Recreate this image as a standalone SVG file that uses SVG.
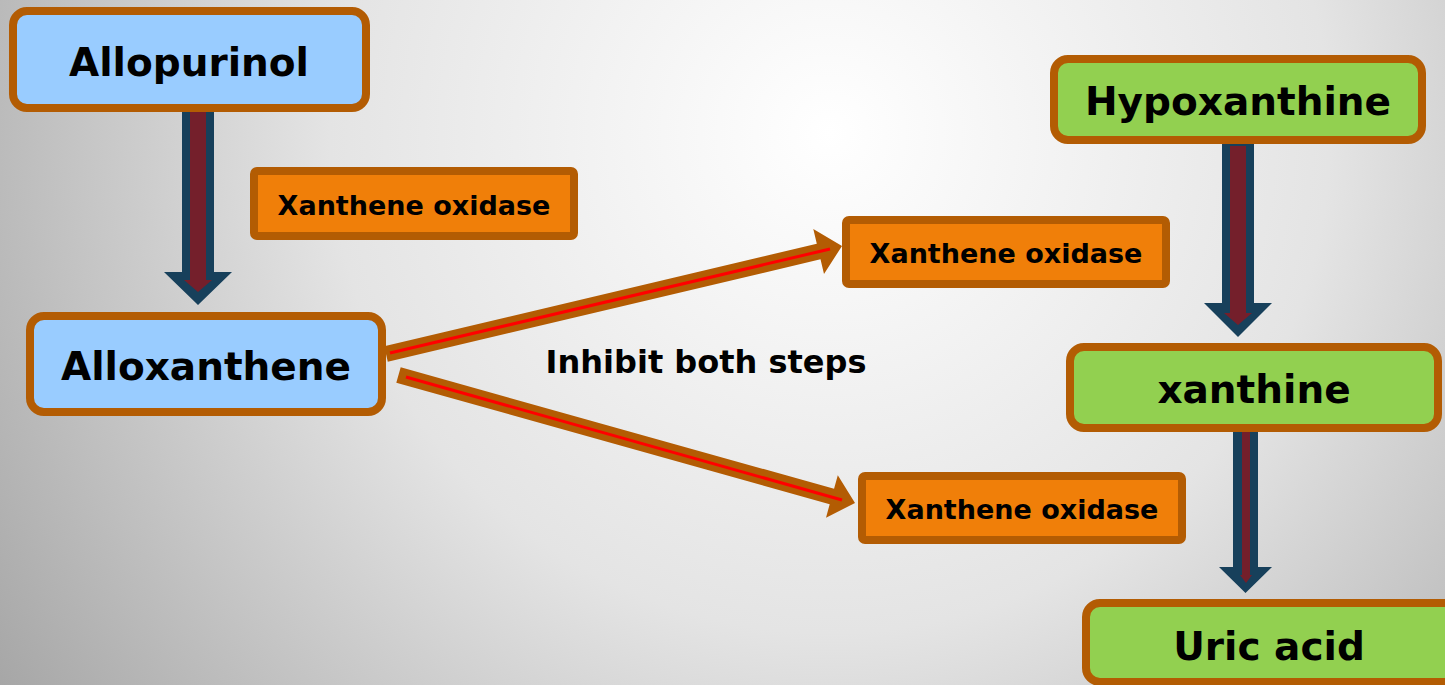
<svg xmlns="http://www.w3.org/2000/svg" width="1445" height="685" viewBox="0 0 1445 685">
<defs>
<radialGradient id="bg" gradientUnits="userSpaceOnUse" cx="830" cy="133" r="1000">
<stop offset="0" stop-color="#ffffff"/>
<stop offset="0.5" stop-color="#e4e4e4"/>
<stop offset="1" stop-color="#a6a6a6"/>
</radialGradient>
<style>
.big{fill:#99ccff;stroke:#b35c03;stroke-width:8}
.grn{fill:#92d050;stroke:#b35c03;stroke-width:8}
.enz{fill:#f07f09;stroke:#b35c03;stroke-width:8}
.t1{font-family:"DejaVu Sans","Verdana",sans-serif;font-weight:bold;font-size:39px;fill:#000;text-anchor:middle}
.t2{font-family:"DejaVu Sans","Verdana",sans-serif;font-weight:bold;font-size:27px;fill:#000;text-anchor:middle}
.t3{font-family:"DejaVu Sans","Verdana",sans-serif;font-weight:bold;font-size:32px;fill:#000;text-anchor:middle}
.bo{fill:#17405b}
.bi{fill:#741f2b}
.ia{fill:#b35c03}
.rl{stroke:#ff0000;stroke-width:3;fill:none}
</style>
</defs>
<rect x="0" y="0" width="1445" height="685" fill="url(#bg)"/>
<g id="connectors">
<path class="bo" d="M182,100 L214,100 L214,272 L232,272 L198,305 L164,272 L182,272 Z"/>
<path class="bi" d="M190,112 L206,112 L206,280 L212,280 L198,292 L184,280 L190,280 Z"/>
<path class="bo" d="M1222,135 L1254,135 L1254,303 L1272,303 L1238,337 L1204,303 L1222,303 Z"/>
<path class="bi" d="M1230,146 L1246,146 L1246,313 L1252,313 L1238,325 L1224,313 L1230,313 Z"/>
<path class="bo" d="M1233,425 L1258,425 L1258,567 L1272,567 L1245.5,593 L1219,567 L1233,567 Z"/>
<path class="bi" d="M1242,432 L1250,432 L1250,575 L1252,575 L1246,583 L1240,575 L1242,575 Z"/>
<polygon class="ia" points="384.2,346.2 816.8,243.75 813.3,229.1 842,246 824.0,273.9 820.5,259.3 387.8,361.8"/>
<line class="rl" x1="390" y1="353" x2="830" y2="249"/>
<polygon class="ia" points="400.7,367.3 834.05,488.8 837.8,475.3 855,503 826.0,517.7 829.7,504.2 396.3,382.7"/>
<line class="rl" x1="406" y1="377" x2="842" y2="500"/>
</g>
<g id="allopurinol">
<rect class="big" x="13" y="11" width="353" height="97" rx="14"/>
<text class="t1" x="189" y="76">Allopurinol</text>
</g>
<g id="xo1">
<rect class="enz" x="254" y="171" width="320" height="65" rx="3"/>
<text class="t2" x="414" y="215">Xanthene oxidase</text>
</g>
<g id="alloxanthene">
<rect class="big" x="30" y="316" width="352" height="96" rx="14"/>
<text class="t1" x="206" y="380">Alloxanthene</text>
</g>
<g id="inhibit">
<text class="t3" x="706" y="373">Inhibit both steps</text>
</g>
<g id="xo2">
<rect class="enz" x="846" y="220" width="320" height="64" rx="3"/>
<text class="t2" x="1006" y="263">Xanthene oxidase</text>
</g>
<g id="xo3">
<rect class="enz" x="862" y="476" width="320" height="64" rx="3"/>
<text class="t2" x="1022" y="519">Xanthene oxidase</text>
</g>
<g id="hypoxanthine">
<rect class="grn" x="1054" y="59" width="368" height="81" rx="14"/>
<text class="t1" x="1238" y="115">Hypoxanthine</text>
</g>
<g id="xanthine">
<rect class="grn" x="1070" y="347" width="368" height="81" rx="14"/>
<text class="t1" x="1254" y="403">xanthine</text>
</g>
<g id="uricacid">
<rect class="grn" x="1086" y="603" width="400" height="79" rx="14"/>
<text class="t1" x="1269" y="660">Uric acid</text>
</g>
</svg>
